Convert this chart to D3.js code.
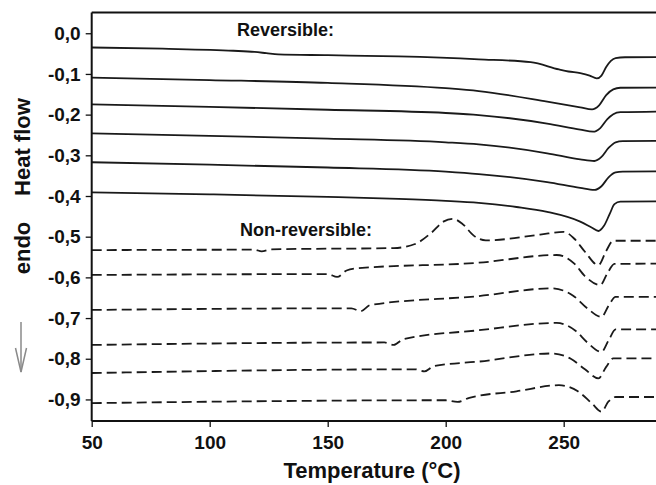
<!DOCTYPE html>
<html>
<head>
<meta charset="utf-8">
<script src="https://cdn.jsdelivr.net/npm/d3@7"></script>
<style>
  html, body { margin: 0; padding: 0; background: #fff; }
  svg { display: block; }
  text { font-family: "Liberation Sans", Arial, sans-serif; font-weight: bold; fill: #111; }
</style>
</head>
<body>
<svg id="chart" width="656" height="485"></svg>
<script>
// ---------- data ----------
const xTicks = [50, 100, 150, 200, 250];
const yTicks = [0, -0.1, -0.2, -0.3, -0.4, -0.5, -0.6, -0.7, -0.8, -0.9];

const rev1 = [[50,-0.035],[80,-0.038],[110,-0.043],[119,-0.046],[124,-0.049],[129,-0.052],[150,-0.054],[180,-0.057],[214,-0.064],[236,-0.071],[248,-0.089],[252,-0.094],[257,-0.098],[261,-0.104],[264,-0.111],[266,-0.104],[268,-0.083],[270,-0.068],[272,-0.061],[276,-0.059],[300,-0.058]];
const rev2 = [[50,-0.109],[100,-0.115],[150,-0.122],[200,-0.135],[214,-0.142],[243,-0.168],[257,-0.182],[262,-0.187],[265,-0.177],[268,-0.152],[271,-0.138],[274,-0.134],[300,-0.133]];
const rev3 = [[50,-0.175],[100,-0.181],[150,-0.188],[200,-0.196],[214,-0.201],[243,-0.222],[257,-0.237],[262.5,-0.242],[265.5,-0.233],[268.5,-0.211],[271,-0.199],[274,-0.194],[300,-0.192]];
const rev4 = [[50,-0.246],[100,-0.252],[150,-0.259],[200,-0.268],[214,-0.273],[243,-0.295],[257,-0.310],[263,-0.314],[266,-0.304],[269,-0.282],[272,-0.268],[275,-0.265],[300,-0.264]];
const rev5 = [[50,-0.317],[100,-0.323],[150,-0.330],[200,-0.340],[214,-0.346],[243,-0.366],[257,-0.380],[263,-0.385],[266,-0.376],[269,-0.354],[272,-0.342],[275,-0.340],[300,-0.339]];
const rev6 = [[50,-0.391],[100,-0.396],[150,-0.402],[180,-0.407],[200,-0.412],[214,-0.417],[230,-0.427],[243,-0.439],[257,-0.463],[262,-0.478],[264.7,-0.486],[267,-0.474],[269.5,-0.444],[271.5,-0.420],[274,-0.414],[300,-0.413]];

const nrev1 = [[50,-0.533],[119,-0.532],[122,-0.536],[126,-0.531],[178,-0.528],[187,-0.518],[194,-0.490],[199,-0.463],[203,-0.456],[207,-0.468],[212,-0.498],[217,-0.509],[240,-0.495],[250,-0.488],[254.5,-0.505],[259,-0.537],[264.7,-0.570],[268,-0.535],[271,-0.510],[300,-0.510]];
const nrev2 = [[50,-0.594],[150,-0.592],[154,-0.599],[158,-0.583],[162,-0.578],[214,-0.564],[247,-0.545],[254.5,-0.566],[259,-0.597],[265.5,-0.619],[268.5,-0.590],[271.5,-0.567],[300,-0.566]];
const nrev3 = [[50,-0.680],[160,-0.676],[164,-0.683],[168,-0.668],[214,-0.646],[245,-0.627],[254,-0.645],[260,-0.676],[266,-0.697],[269,-0.670],[272,-0.648],[300,-0.648]];
const nrev4 = [[50,-0.766],[174,-0.760],[178,-0.766],[182,-0.752],[214,-0.730],[247,-0.712],[255,-0.731],[260,-0.760],[266,-0.783],[269,-0.755],[272,-0.728],[300,-0.728]];
const nrev5 = [[50,-0.835],[187,-0.826],[191,-0.831],[195,-0.818],[214,-0.807],[245,-0.787],[253,-0.800],[259,-0.826],[264.7,-0.848],[268,-0.820],[271,-0.799],[300,-0.799]];
const nrev6 = [[50,-0.909],[200,-0.902],[205,-0.906],[210,-0.896],[230,-0.880],[248,-0.865],[256,-0.880],[262,-0.910],[266,-0.930],[269,-0.905],[272,-0.894],[300,-0.894]];

const reversible = [rev1, rev2, rev3, rev4, rev5, rev6];
const nonReversible = [nrev1, nrev2, nrev3, nrev4, nrev5, nrev6];

// ---------- drawing ----------
const svg = d3.select("#chart");
const x = d3.scaleLinear().domain([50, 300]).range([91.7, 681.7]);
const y = d3.scaleLinear().domain([-0.953, 0.051]).range([421, 12.5]);

const line = d3.line().x(d => x(d[0])).y(d => y(d[1])).curve(d3.curveMonotoneX);

svg.append("defs").append("clipPath").attr("id", "clip")
  .append("rect").attr("x", 91.7).attr("y", 12.5).attr("width", 600).attr("height", 408.5);

const plot = svg.append("g").attr("clip-path", "url(#clip)");
plot.selectAll(".rev").data(reversible).enter().append("path")
  .attr("class", "rev").attr("d", line)
  .attr("fill", "none").attr("stroke", "#1a1a1a").attr("stroke-width", 1.8);
plot.selectAll(".nrev").data(nonReversible).enter().append("path")
  .attr("class", "nrev").attr("d", line)
  .attr("fill", "none").attr("stroke", "#1a1a1a").attr("stroke-width", 1.8)
  .attr("stroke-dasharray", "10,5");

// frame top
svg.append("line").attr("x1", x(50)).attr("x2", 656).attr("y1", 12.5).attr("y2", 12.5)
  .attr("stroke", "#111").attr("stroke-width", 2);

const fmt = v => d3.format(".1f")(v).replace("−", "-").replace(".", ",");

const yAxis = svg.append("g").attr("transform", `translate(${x(50)},0)`)
  .call(d3.axisLeft(y).tickValues(yTicks).tickFormat(fmt).tickSize(6).tickPadding(5));
const xAxis = svg.append("g").attr("transform", `translate(0,421)`)
  .call(d3.axisBottom(x).tickValues(xTicks).tickFormat(d3.format("d")).tickSize(6).tickPadding(9));

[yAxis, xAxis].forEach(a => {
  a.select(".domain").attr("stroke", "#111").attr("stroke-width", 2);
  a.selectAll(".tick line").attr("stroke", "#111").attr("stroke-width", 1.3);
  a.selectAll("text").style("font-size", "19px").attr("font-weight", "bold")
    .attr("fill", "#111").style("font-family", "'Liberation Sans', Arial, sans-serif");
});
yAxis.select(".domain").attr("d", `M0,12.5V421`);
xAxis.select(".domain").attr("d", `M${x(50)},0H656`);

// labels
svg.append("text").attr("x", 372).attr("y", 478).attr("text-anchor", "middle")
  .style("font-size", "22px").text("Temperature (°C)");
svg.append("text").attr("transform", "translate(30,147) rotate(-90)").attr("text-anchor", "middle")
  .style("font-size", "22px").text("Heat flow");
svg.append("text").attr("transform", "translate(30,248) rotate(-90)").attr("text-anchor", "middle")
  .style("font-size", "22px").text("endo");
svg.append("text").attr("x", 237).attr("y", 36).style("font-size", "18px").text("Reversible:");
svg.append("text").attr("x", 240).attr("y", 236).style("font-size", "18px").text("Non-reversible:");

// arrow
const ag = svg.append("g").attr("stroke", "#8a8a8a").attr("stroke-width", 1.5).attr("fill", "none");
ag.append("line").attr("x1", 21).attr("x2", 21).attr("y1", 322).attr("y2", 372);
ag.append("path").attr("d", "M15.5,348 L21,372 L26.5,348");
</script>
</body>
</html>
